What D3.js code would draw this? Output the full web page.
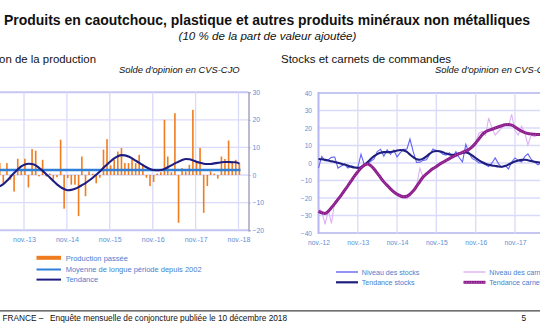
<!DOCTYPE html>
<html><head><meta charset="utf-8">
<script src="https://cdn.jsdelivr.net/npm/d3@7"></script>
<style>
body{margin:0;background:#fff;overflow:hidden}
svg{display:block;font-family:"Liberation Sans",Arial,Helvetica,sans-serif}
</style>
</head><body>
<svg id="c" width="540" height="326"></svg>
<script>
// ---------------- DATA ----------------
const mainTitle = "Produits en caoutchouc, plastique et autres produits minéraux non métalliques";
const subTitle = "(10 % de la part de valeur ajoutée)";
const leftTitle = "Évolution de la production";
const rightTitle = "Stocks et carnets de commandes";
const unitNote = "Solde d'opinion en CVS-CJO";
const footerLeft = "BANQUE DE FRANCE –";
const footerText = "Enquête mensuelle de conjoncture publiée le 10 décembre 2018";
const pageNumber = "5";

// Left chart: months from April 2013 to November 2018
const prodStart = new Date(2013, 3, 1);
const prodEnd = new Date(2018, 10, 1);
const productionPassee = [
  4.3, -2.9, 4.3, -1.7, -6.0, 5.9, 1.5,
  5.9, -4.5, 9.4, 8.8, -0.5, 5.5, -0.5, 0.5, -1.7, -0.8, 12.8, -12.2,
  -1.1, -3.5, -3.5, -14.9, 6.7, -7.7, 1.3, 0.5, -3.0, -1.0, 9.2, 13.0,
  3.5, 5.5, 8.5, 9.8, 4.3, 4.3, 6.0, 4.3, 7.3, 4.0, -1.0, -4.0,
  -2.5, 0.5, 1.0, 20.0, 6.7, 1.0, 22.4, -17.3, 2.5, 1.3, 3.7, 23.6,
  5.0, 9.8, -13.7, -4.0, 1.3, 0.5, -1.3, 6.7, 5.8, 12.5, 5.0, 5.5,
  4.3
];
const tendanceProd = [
  -4.1, -3.3, -2.1, -0.7, 0.7, 2.0, 3.1,
  3.8, 4.1, 4.0, 3.5, 2.6, 1.5, 0.3, -0.9, -2.2, -3.4, -4.4, -5.1,
  -5.5, -5.4, -5.0, -4.4, -3.7, -2.9, -2.0, -1.0, 0.1, 1.3, 2.6, 3.8,
  5.0, 6.0, 6.8, 7.2, 7.1, 6.7, 6.0, 5.2, 4.4, 3.6, 2.8, 2.2,
  1.8, 1.7, 1.8, 2.2, 2.8, 3.5, 4.2, 4.8, 5.4, 5.8, 5.7, 5.3,
  4.8, 4.4, 4.1, 4.0, 4.0, 4.2, 4.4, 4.6, 4.7, 4.7, 4.6, 4.6,
  4.1
];
const moyenneLongue = 1.8;
const leftYTicks = [30, 20, 10, 0, -10, -20];
const leftXTickLabels = ["nov.-13", "nov.-14", "nov.-15", "nov.-16", "nov.-17", "nov.-18"];
const leftXTickDates = [new Date(2012,10,1), new Date(2013,10,1), new Date(2014,10,1), new Date(2015,10,1), new Date(2016,10,1), new Date(2017,10,1), new Date(2018,10,1)];

// Right chart: months from November 2012 to July 2018
const stockStart = new Date(2012, 10, 1);
const stockEnd = new Date(2018, 6, 1);
const niveauStocks = [
  -2.9, 3.8, 1.3, 1.9, 3.2, 3.4, -2.9, -1.7, -0.6, -2.9, -1.7, -2.3,
  -2.5, 5.0, -1.0, -0.4, 1.0, 2.3, 6.5, 7.8, 3.8, 7.6, 5.0, 7.4,
  3.5, 5.9, 7.8, 8.0, 13.7, 6.3, 0.3, 0.5, 1.5, 1.9, 5.0, 8.0,
  7.0, 6.5, 5.0, 4.5, 5.9, 3.4, 6.5, 3.0, 0.6, 10.6, 5.3, 2.5,
  1.5, 0.0, 0.0, -1.0, -2.0, 0.0, 2.9, -0.5, -2.5, -1.3, -3.4, 0.6,
  2.9, 1.5, 0.6, 3.8, 5.2, 2.0, 0.6, -1.0, 0.0
];
const tendanceStocks = [
  2.3, 2.1, 1.8, 1.4, 1.0, 0.6, 0.1, -0.4, -0.9, -1.5, -2.1, -2.6,
  -2.8, -2.4, -1.2, 0.5, 2.3, 3.9, 5.1, 5.9, 6.2, 6.2, 6.3, 6.6,
  7.1, 7.4, 7.2, 6.3, 4.8, 3.3, 2.2, 1.9, 2.5, 3.8, 5.3, 6.5,
  6.9, 6.7, 6.1, 5.4, 4.9, 4.7, 4.9, 5.4, 5.9, 6.0, 5.4, 4.2,
  2.8, 1.5, 0.4, -0.4, -1.0, -1.4, -1.7, -2.0, -2.1, -1.7, -0.9, 0.0,
  0.8, 1.4, 1.8, 1.9, 1.6, 1.1, 0.7, 0.4, 0.2
];
const niveauCarnets = [
  -26, -27.5, -35, -27, -34.5, -22, -20.5, -18, -16, -13.5, -10, -8,
  -4.5, -3, -1.5, -0.5, -1, -3.5, -5.5, -9, -11, -12.5, -15, -16,
  -17, -18, -20, -20.5, -19, -16, -13, -3, -8, -6, -4, -3,
  -1.5, -1, 1, 1.5, 2, 4, 4, 5.5, 7, 6.5, 8, 9,
  12, 17, 18, 16, 25.7, 20, 16, 18, 20, 22, 21, 27.8,
  18.5, 16, 21, 17, 10.3, 16, 15, 16, 16
];
const tendanceCarnets = [
  -27.6, -28.4, -28.8, -27.5, -25.5, -23.2, -20.8, -18.3, -15.7, -13.0, -10.2, -7.5,
  -5.0, -2.8, -1.2, -0.5, -1.5, -3.4, -5.8, -8.4, -10.8, -12.8, -14.8, -16.5,
  -17.9, -18.8, -19.3, -19.0, -17.8, -15.9, -13.4, -10.6, -8.0, -6.2, -4.6, -3.2,
  -2.0, -0.7, 0.4, 1.5, 2.5, 3.5, 4.4, 5.3, 6.1, 6.9, 7.9, 9.4,
  11.4, 13.8, 16.2, 17.8, 18.6, 19.3, 20.0, 20.7, 21.3, 21.8, 22.0, 21.6,
  20.6, 19.3, 18.2, 17.4, 16.9, 16.6, 16.4, 16.3, 16.2
];
const rightYTicks = [40, 30, 20, 10, 0, -10, -20, -30, -40];
const rightXTickLabels = ["nov.-12", "nov.-13", "nov.-14", "nov.-15", "nov.-16", "nov.-17"];
const rightXTickDates = [new Date(2012,10,1), new Date(2013,10,1), new Date(2014,10,1), new Date(2015,10,1), new Date(2016,10,1), new Date(2017,10,1), new Date(2018,10,1)];

const leftLegend = ["Production passée", "Moyenne de longue période depuis 2002", "Tendance"];
const rightLegend = ["Niveau des stocks", "Tendance stocks", "Niveau des carnets", "Tendance carnets"];

// ---------------- STYLE ----------------
const C = {
  grid: "#DADAFB", frame: "#C6C6F2", axisR: "#A4A4C4",
  bar: "#EF7D20", mean: "#2F7ED8", trend: "#1E1E82",
  stock: "#6464F4", stockT: "#1E1E7C", carn: "#DDB2F2", carnT: "#8C1C8C",
  tick: "#5B90D6", legend: "#4A80CE"
};
const FF = '"Liberation Sans", Arial, sans-serif';

const svg = d3.select("#c");
const prodMonths = d3.timeMonth.range(prodStart, d3.timeMonth.offset(prodEnd, 1));
const stockMonths = d3.timeMonth.range(stockStart, d3.timeMonth.offset(stockEnd, 1));

// ---------------- TITLES ----------------
svg.append("text").attr("x", 267).attr("y", 24.8).attr("text-anchor", "middle")
  .attr("font-weight", "bold").attr("font-size", 13.8)
  .attr("textLength", 526).attr("lengthAdjust", "spacingAndGlyphs")
  .attr("fill", "#111").text(mainTitle);
svg.append("text").attr("x", 267.5).attr("y", 39.5).attr("text-anchor", "middle")
  .attr("font-style", "italic").attr("font-size", 11.6).attr("fill", "#111").text(subTitle);

svg.append("text").attr("x", 96).attr("y", 63).attr("text-anchor", "end")
  .attr("font-size", 11.4).attr("fill", "#111").text(leftTitle);
svg.append("text").attr("x", 119).attr("y", 73).attr("font-style", "italic")
  .attr("font-size", 9.4).attr("fill", "#111").text(unitNote);

svg.append("text").attr("x", 281).attr("y", 63)
  .attr("font-size", 11.5).attr("fill", "#111").text(rightTitle);
svg.append("text").attr("x", 435).attr("y", 73).attr("font-style", "italic")
  .attr("font-size", 9.4).attr("fill", "#111").text(unitNote);

// ---------------- LEFT CHART ----------------
const xL = d3.scaleTime().domain([new Date(2013,10,1), new Date(2018,10,1)]).range([24, 238.5]);
const yL = d3.scaleLinear().domain([-20, 30]).range([230.2, 92.2]);
const gL = svg.append("g");

gL.selectAll(".hg").data(leftYTicks).join("line")
  .attr("x1", -30).attr("x2", 248.5)
  .attr("y1", d => yL(d)).attr("y2", d => yL(d))
  .attr("stroke", d => (d === 30 || d === -20) ? C.frame : C.grid)
  .attr("stroke-width", d => (d === 30 || d === -20) ? 2 : 1.3);
gL.selectAll(".vg").data(leftXTickDates).join("line")
  .attr("x1", d => xL(d)).attr("x2", d => xL(d))
  .attr("y1", yL(30)).attr("y2", yL(-20))
  .attr("stroke", C.grid).attr("stroke-width", 1.3);

gL.selectAll(".bar").data(productionPassee).join("rect")
  .attr("x", (d, i) => xL(prodMonths[i]) + 0.9 - 0.8)
  .attr("width", 1.6)
  .attr("y", d => yL(Math.max(0, d)))
  .attr("height", d => Math.abs(yL(d) - yL(0)))
  .attr("fill", C.bar);

gL.append("line")
  .attr("x1", -30).attr("x2", xL(prodEnd) + 2)
  .attr("y1", yL(moyenneLongue)).attr("y2", yL(moyenneLongue))
  .attr("stroke", C.mean).attr("stroke-width", 2.4);

const lineL = d3.line().x((d, i) => xL(prodMonths[i]) + 0.9).y(d => yL(d)).curve(d3.curveMonotoneX);
gL.append("path").datum(tendanceProd).attr("d", lineL)
  .attr("fill", "none").attr("stroke", C.trend).attr("stroke-width", 2.1);

const axL = d3.axisRight(yL).tickValues(leftYTicks).tickSize(2).tickPadding(2).tickFormat(d3.format("d"));
const axLg = svg.append("g").attr("transform", "translate(248.5,0)").call(axL);
axLg.select(".domain").attr("stroke", C.axisR).attr("stroke-width", 1.5);
axLg.selectAll(".tick line").attr("stroke", C.axisR);
axLg.selectAll(".tick text").attr("fill", C.tick).attr("font-size", 6.8).attr("font-family", FF);

const axLx = d3.axisBottom(xL).tickValues(leftXTickDates.slice(1)).tickSize(0).tickPadding(0)
  .tickFormat((d, i) => leftXTickLabels[i]);
const axLxg = svg.append("g").attr("transform", "translate(0,236.8)").call(axLx);
axLxg.select(".domain").remove();
axLxg.selectAll(".tick text").attr("fill", C.tick).attr("font-size", 7).attr("font-family", FF);

// ---------------- RIGHT CHART ----------------
const xR = d3.scaleTime().domain([new Date(2012,10,1), new Date(2017,10,1)]).range([318.5, 515]);
const yR = d3.scaleLinear().domain([-40, 40]).range([233, 93]);
const gR = svg.append("g");

gR.selectAll(".hg").data(rightYTicks).join("line")
  .attr("x1", 318.5).attr("x2", 560)
  .attr("y1", d => yR(d)).attr("y2", d => yR(d))
  .attr("stroke", d => (d === 40 || d === -40) ? C.frame : C.grid)
  .attr("stroke-width", d => (d === 40 || d === -40) ? 2 : 1.3);
gR.selectAll(".vg").data(rightXTickDates.slice(1)).join("line")
  .attr("x1", d => xR(d)).attr("x2", d => xR(d))
  .attr("y1", yR(40)).attr("y2", yR(-40))
  .attr("stroke", C.grid).attr("stroke-width", 1.3);
gR.append("line").attr("x1", 318.5).attr("x2", 318.5).attr("y1", yR(40) - 1).attr("y2", yR(-40) + 1)
  .attr("stroke", "#B6B6F2").attr("stroke-width", 2);

const lineR = d3.line().x((d, i) => xR(stockMonths[i])).y(d => yR(d));
const lineRs = d3.line().x((d, i) => xR(stockMonths[i])).y(d => yR(d)).curve(d3.curveMonotoneX);

gR.append("path").datum(niveauCarnets).attr("d", lineR)
  .attr("fill", "none").attr("stroke", C.carn).attr("stroke-width", 1.1);
gR.append("path").datum(niveauStocks).attr("d", lineR)
  .attr("fill", "none").attr("stroke", C.stock).attr("stroke-width", 1.1);
gR.append("path").datum(tendanceStocks).attr("d", lineRs)
  .attr("fill", "none").attr("stroke", C.stockT).attr("stroke-width", 2.1);
gR.append("path").datum(tendanceCarnets).attr("d", lineRs)
  .attr("fill", "none").attr("stroke", C.carnT).attr("stroke-width", 3);
gR.append("path").datum(tendanceCarnets).attr("d", lineRs)
  .attr("fill", "none").attr("stroke", "#B052B0").attr("stroke-width", 1)
  .attr("stroke-dasharray", "1,1.5");

const axR = d3.axisLeft(yR).tickValues(rightYTicks).tickSize(0).tickPadding(6.5).tickFormat(d3.format("d"));
const axRg = svg.append("g").attr("transform", "translate(318.5,0)").call(axR);
axRg.select(".domain").remove();
axRg.selectAll(".tick text").attr("fill", C.tick).attr("font-size", 6.6).attr("font-family", FF);

const axRx = d3.axisBottom(xR).tickValues(rightXTickDates.slice(0, 6)).tickSize(0).tickPadding(0)
  .tickFormat((d, i) => rightXTickLabels[i]);
const axRxg = svg.append("g").attr("transform", "translate(0,240.3)").call(axRx);
axRxg.select(".domain").remove();
axRxg.selectAll(".tick text").attr("fill", C.tick).attr("font-size", 6.7).attr("font-family", FF);

// ---------------- LEGENDS ----------------
const lgL = svg.append("g");
const lgLy = [257.8, 269.5, 279.6];
lgL.append("rect").attr("x", 36.5).attr("y", lgLy[0] - 2).attr("width", 24.5).attr("height", 4).attr("fill", C.bar);
lgL.append("line").attr("x1", 36.5).attr("x2", 61).attr("y1", lgLy[1]).attr("y2", lgLy[1])
  .attr("stroke", C.mean).attr("stroke-width", 2);
lgL.append("line").attr("x1", 36.5).attr("x2", 61).attr("y1", lgLy[2]).attr("y2", lgLy[2])
  .attr("stroke", C.trend).attr("stroke-width", 2);
lgL.selectAll("text").data(leftLegend).join("text")
  .attr("x", 65.7).attr("y", (d, i) => lgLy[i] + 2.7)
  .attr("font-size", 7.5).attr("fill", C.legend).text(d => d);

const lgR = svg.append("g");
const lgRpos = [[336, 272], [336, 282.3], [463.5, 272], [463.5, 282.3]];
const lgRstyle = [[C.stock, 1.4], [C.stockT, 2.2], [C.carn, 1.4], [C.carnT, 3]];
lgR.selectAll("line").data(rightLegend).join("line")
  .attr("x1", (d, i) => lgRpos[i][0]).attr("x2", (d, i) => lgRpos[i][0] + 22)
  .attr("y1", (d, i) => lgRpos[i][1]).attr("y2", (d, i) => lgRpos[i][1])
  .attr("stroke", (d, i) => lgRstyle[i][0]).attr("stroke-width", (d, i) => lgRstyle[i][1]);
lgR.append("line").attr("x1", lgRpos[3][0]).attr("x2", lgRpos[3][0] + 22)
  .attr("y1", lgRpos[3][1]).attr("y2", lgRpos[3][1])
  .attr("stroke", "#C070C0").attr("stroke-width", 1).attr("stroke-dasharray", "1,1.5");
lgR.selectAll("text").data(rightLegend).join("text")
  .attr("x", (d, i) => lgRpos[i][0] + 25.8).attr("y", (d, i) => lgRpos[i][1] + 2.6)
  .attr("font-size", 7.1).attr("fill", C.legend).text(d => d);

// ---------------- FOOTER ----------------
svg.append("line").attr("x1", 0).attr("x2", 540).attr("y1", 310.8).attr("y2", 310.8)
  .attr("stroke", "#444").attr("stroke-width", 1.2);
svg.append("text").attr("x", 43.5).attr("y", 321).attr("text-anchor", "end")
  .attr("font-size", 8.3).attr("fill", "#111").text(footerLeft);
svg.append("text").attr("x", 50).attr("y", 321)
  .attr("font-size", 8.3).attr("fill", "#111").text(footerText);
svg.append("text").attr("x", 526).attr("y", 321).attr("text-anchor", "end")
  .attr("font-size", 8.3).attr("fill", "#111").text(pageNumber);
</script>
</body></html>
